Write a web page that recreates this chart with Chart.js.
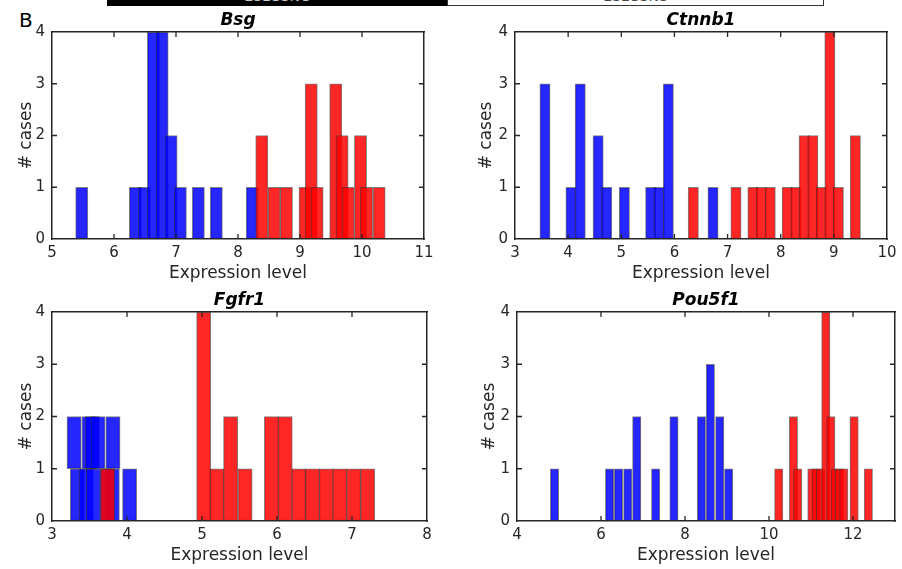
<!DOCTYPE html>
<html><head><meta charset="utf-8">
<script src="https://cdn.jsdelivr.net/npm/chart.js@4"></script>
<style>
body{margin:0;background:#fff;width:902px;height:569px;overflow:hidden;position:relative;font-family:"DejaVu Sans",sans-serif}
canvas{position:absolute}
#lab{position:absolute;left:19px;top:8px;font-size:20px;color:#000;line-height:24px}
.leg{position:absolute;top:0;height:6px;overflow:hidden;font-size:14px;line-height:17px;text-align:center;box-sizing:border-box}
.leg span{position:relative;top:-12px}
</style></head><body>
<div class="leg" style="left:107px;width:340px;background:#000;color:#ccc;"><span>ESLGSNC</span></div>
<div class="leg" style="left:447px;width:377px;background:#fff;border:1px solid #333;border-top:none;color:#444;"><span>ESLGSNS</span></div>
<div id="lab">B</div>
<canvas id="c0"></canvas><canvas id="c1"></canvas><canvas id="c2"></canvas><canvas id="c3"></canvas>
<script>
// ---------------- data ----------------
const Y_TICKS = [0, 1, 2, 3, 4];

const BSG_BLUE_X = [5.48, 6.345, 6.49, 6.635, 6.776, 6.92, 7.07, 7.36, 7.65, 8.23];
const BSG_BLUE_N = [1, 1, 1, 4, 4, 2, 1, 1, 1, 1];
const BSG_RED_X  = [8.384, 8.582, 8.781, 9.082, 9.181, 9.276, 9.577, 9.679, 9.777, 9.976, 10.073, 10.276];
const BSG_RED_N  = [2, 1, 1, 1, 3, 1, 3, 2, 1, 2, 1, 1];

const CTNNB1_BLUE_X = [3.564, 4.053, 4.227, 4.564, 4.726, 5.058, 5.553, 5.712, 5.885, 6.726];
const CTNNB1_BLUE_N = [3, 1, 3, 2, 1, 1, 1, 1, 3, 1];
const CTNNB1_RED_X  = [6.355, 7.158, 7.477, 7.633, 7.803, 8.122, 8.286, 8.442, 8.605, 8.765, 8.925, 9.085, 9.404];
const CTNNB1_RED_N  = [1, 1, 1, 1, 1, 1, 1, 2, 2, 1, 4, 1, 2];

const FGFR1_BLUE_X    = [3.338, 3.458, 3.551, 3.737, 3.804, 4.035, 3.295, 3.494, 3.538, 3.614, 3.813];
const FGFR1_BLUE_BASE = [0, 0, 0, 0, 0, 0, 1, 1, 1, 1, 1];
const FGFR1_BLUE_N    = [1, 1, 1, 1, 1, 1, 2, 2, 2, 2, 2];
const FGFR1_RED_X  = [3.742, 5.023, 5.201, 5.382, 5.574, 5.926, 6.109, 6.291, 6.473, 6.657, 6.838, 7.023, 7.209];
const FGFR1_RED_N  = [1, 4, 1, 2, 1, 2, 2, 1, 1, 1, 1, 1, 1];

const POU5F1_BLUE_X = [4.893, 6.204, 6.417, 6.637, 6.851, 7.301, 7.737, 8.391, 8.604, 8.827, 9.04];
const POU5F1_BLUE_N = [1, 1, 1, 1, 2, 1, 2, 2, 3, 2, 1];
const POU5F1_RED_X  = [10.232, 10.581, 10.683, 11.021, 11.126, 11.227, 11.353, 11.472, 11.576, 11.678, 11.78, 12.026, 12.365];
const POU5F1_RED_N  = [1, 2, 1, 1, 1, 1, 4, 2, 1, 1, 1, 2, 1];

// ---------------- style / layout ----------------
Chart.defaults.font.family = '"DejaVu Sans", sans-serif';
const AXC = '#262626';
const BLUE = 'rgba(0,0,255,0.85)';
const RED = 'rgba(255,0,0,0.85)';
const EDGE = 'rgba(45,45,45,0.6)';
const AX_L = 52, AX_R = 20, AX_T = 32, AX_B = 50;

function pts(xs, tops, bases) {
  return xs.map((x, i) => ({x: x, y: [bases ? bases[i] : 0, tops[i]]}));
}

const inTicks = {
  id: 'inTicks',
  afterDraw(chart) {
    const {ctx, chartArea: a, scales} = chart;
    const L = 5;
    ctx.save();
    ctx.strokeStyle = AXC; ctx.lineWidth = 1.3;
    ctx.beginPath();
    scales.x.ticks.forEach(t => {
      const p = scales.x.getPixelForValue(t.value);
      if (p <= a.left + 1 || p >= a.right - 1) return;
      ctx.moveTo(p, a.bottom); ctx.lineTo(p, a.bottom - L);
      ctx.moveTo(p, a.top); ctx.lineTo(p, a.top + L);
    });
    scales.y.ticks.forEach(t => {
      const p = scales.y.getPixelForValue(t.value);
      if (p <= a.top + 1 || p >= a.bottom - 1) return;
      ctx.moveTo(a.left, p); ctx.lineTo(a.left + L, p);
      ctx.moveTo(a.right, p); ctx.lineTo(a.right - L, p);
    });
    ctx.stroke();
    ctx.restore();
  }
};

function noPad(s) { s.paddingLeft = 0; s.paddingRight = 0; s.paddingTop = 0; s.paddingBottom = 0; }

function panel(id, p) {
  const W = (p.R - p.L) + AX_L + AX_R, H = (p.B - p.T) + AX_T + AX_B;
  const cv = document.getElementById(id);
  cv.width = W; cv.height = H;
  cv.style.left = (p.L - AX_L) + 'px'; cv.style.top = (p.T - AX_T) + 'px';
  const border = {display: true, color: AXC, width: 1.5, z: 1};
  const tickFont = {size: 15};
  const ds = (data, col, order) => ({data, backgroundColor: col, borderColor: EDGE, borderWidth: 1,
    borderSkipped: false, grouped: false, order});
  const chart = new Chart(cv, {
    type: 'bar',
    data: {datasets: [
      ds(pts(p.blueX, p.blueN, p.blueBase), BLUE, 1),
      ds(pts(p.redX, p.redN), RED, 0)
    ]},
    options: {
      responsive: false, animation: false, devicePixelRatio: 1,
      layout: {padding: 0},
      plugins: {legend: {display: false}, tooltip: {enabled: false}, title: {display: false}},
      scales: {
        x: {type: 'linear', position: 'bottom', min: p.xmin, max: p.xmax, offset: false,
            grid: {display: false, drawTicks: false}, border,
            ticks: {stepSize: p.step, includeBounds: false, font: tickFont, color: AXC, padding: 5, maxRotation: 0, autoSkip: false},
            title: {display: true, text: 'Expression level', font: {size: 17}, color: AXC, padding: {top: 0, bottom: 4.8}},
            afterFit: s => { s.height = AX_B; noPad(s); }},
        x2: {type: 'linear', position: 'top', min: p.xmin, max: p.xmax, offset: false,
            grid: {display: false, drawTicks: false}, border, ticks: {display: false},
            title: {display: true, text: p.title, font: {size: 17, weight: 'bold', style: 'italic'}, color: '#000', padding: {top: 10.5, bottom: 0}},
            afterFit: s => { s.height = AX_T; noPad(s); }},
        y: {type: 'linear', position: 'left', min: 0, max: 4,
            grid: {display: false, drawTicks: false}, border,
            afterBuildTicks: s => { s.ticks = Y_TICKS.map(v => ({value: v})); },
            ticks: {font: tickFont, color: AXC, padding: 7},
            title: {display: true, text: '# cases', font: {size: 17}, color: AXC, padding: {top: AX_L - p.ylab - 10.2, bottom: 0}},
            afterFit: s => { s.width = AX_L; noPad(s); }},
        y2: {type: 'linear', position: 'right', min: 0, max: 4,
            grid: {display: false, drawTicks: false}, border, ticks: {display: false},
            afterFit: s => { s.width = AX_R; noPad(s); }}
      }
    },
    plugins: [inTicks]
  });
  const xs = chart.scales.x;
  const px = Math.abs(xs.getPixelForValue(p.xmin + p.barW) - xs.getPixelForValue(p.xmin));
  chart.data.datasets.forEach(d => { d.barThickness = px; });
  chart.update('none');
}

panel('c0', {L: 52, T: 32, R: 424, B: 239, xmin: 5, xmax: 11, step: 1, title: 'Bsg', ylab: 25, barW: 0.197,
  blueX: BSG_BLUE_X, blueN: BSG_BLUE_N, redX: BSG_RED_X, redN: BSG_RED_N});
panel('c1', {L: 515, T: 32, R: 887, B: 239, xmin: 3, xmax: 10, step: 1, title: 'Ctnnb1', ylab: 28, barW: 0.194,
  blueX: CTNNB1_BLUE_X, blueN: CTNNB1_BLUE_N, redX: CTNNB1_RED_X, redN: CTNNB1_RED_N});
panel('c2', {L: 52, T: 312, R: 427, B: 521, xmin: 3, xmax: 8, step: 1, title: 'Fgfr1', ylab: 25, barW: 0.19,
  blueX: FGFR1_BLUE_X, blueN: FGFR1_BLUE_N, blueBase: FGFR1_BLUE_BASE, redX: FGFR1_RED_X, redN: FGFR1_RED_N});
panel('c3', {L: 517, T: 312, R: 895, B: 521, xmin: 4, xmax: 13, step: 2, title: 'Pou5f1', ylab: 27, barW: 0.2,
  blueX: POU5F1_BLUE_X, blueN: POU5F1_BLUE_N, redX: POU5F1_RED_X, redN: POU5F1_RED_N});
</script>
</body></html>
